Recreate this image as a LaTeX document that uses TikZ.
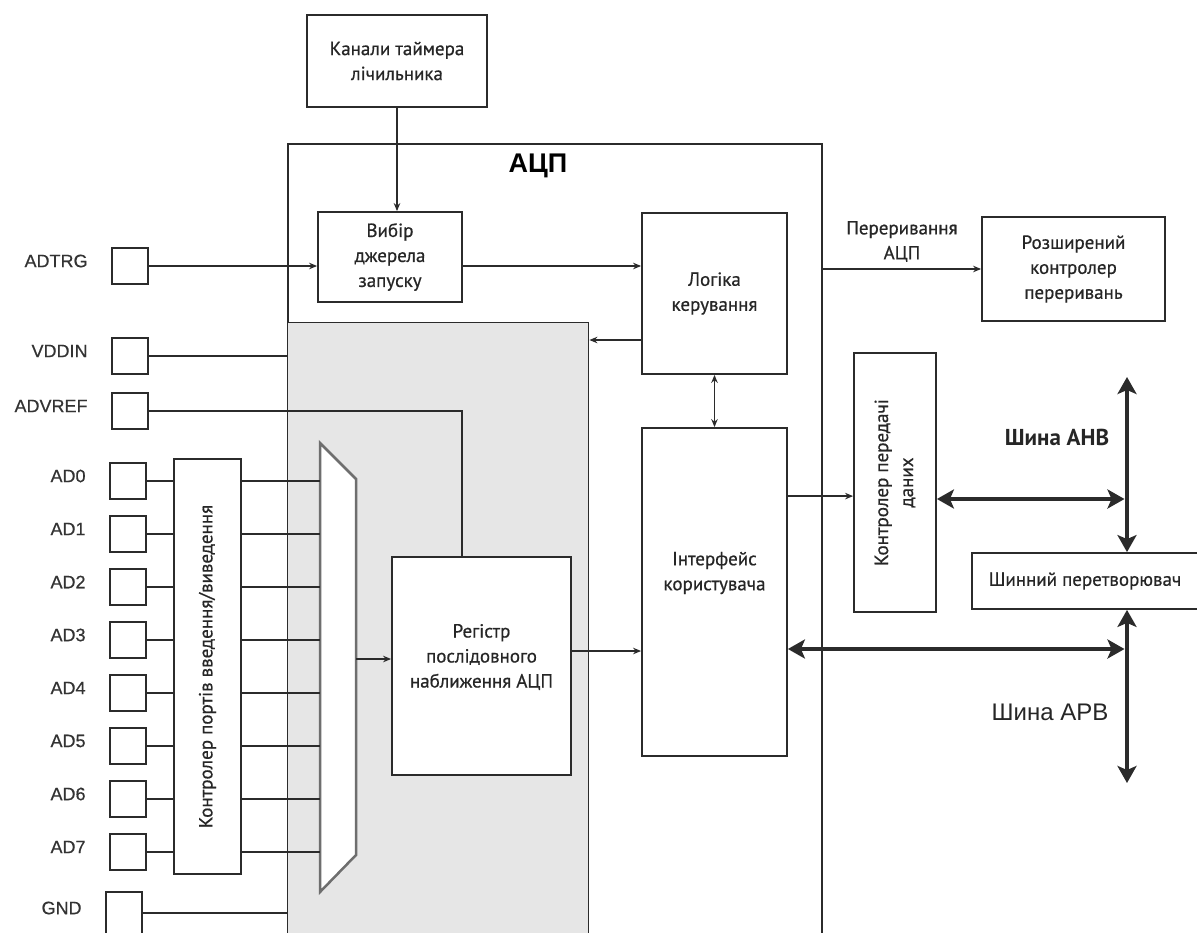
\documentclass[tikz,border=0pt]{standalone}
\usepackage{fontspec}
\setmainfont{PT Sans}
\newfontfamily\boxfont[FakeBold=0.6]{PT Sans}
\newfontfamily\arialfont{Liberation Sans}
\newfontfamily\padfont[FakeBold=0.5]{Liberation Sans}
\usetikzlibrary{arrows.meta,calc}
\definecolor{linegray}{HTML}{2B2B2B}
\definecolor{coregray}{HTML}{E6E6E6}
\definecolor{muxgray}{HTML}{6E6E6E}
\tikzset{
>={Stealth[length=8pt,width=6.5pt]}, % thin arrow heads
every edge/.style={draw, linegray, line width=1.7pt}, % plain connectors
txt/.style={text=black!85, align=center, font=\boxfont\fontsize{19}{25}\selectfont},
block/.style={txt, draw=linegray, line width=1.8pt, fill=white, inner sep=0pt},
padbox/.style={draw=linegray, line width=1.8pt, fill=white, minimum width=36pt, minimum height=36pt, inner sep=0pt},
padlabel/.style={font=\padfont\fontsize{18}{20}\selectfont, text=black!80, label distance=20pt, yshift=5pt},
bus/.style={draw, linegray, line width=4.5pt, arrows={Stealth[length=17pt,width=19pt,inset=4pt]-Stealth[length=17pt,width=19pt,inset=4pt]}}, % thick bus lines
}
\begin{document}
\begin{tikzpicture}[x=1pt, y=-1pt, node distance=53pt]
\useasboundingbox (0,0) rectangle (1197,932);
\clip (0,0) rectangle (1197,932);
\fill[white] (0,0) rectangle (1197,932);

% ADC frame and its grey analog part
\node[block, minimum width=534pt, minimum height=820pt, anchor=north west] (adc) at (287,143) {};
\node[text=black, font=\arialfont\bfseries\fontsize{27}{30}\selectfont] at (538,166) {АЦП};
\node[draw=linegray, line width=1.4pt, fill=coregray, minimum width=301pt, minimum height=640pt, anchor=north west, inner sep=0pt] (core) at (287,322) {};

% blocks
\node[block, minimum width=180pt, minimum height=92pt] (timer) at (397,61) {Канали таймера\\лічильника};
\node[block, minimum width=144pt, minimum height=90pt] (trig) at (390,257) {Вибір\\джерела\\запуску};
\node[block, minimum width=145pt, minimum height=161pt] (logic) at (714.5,293.5) {Логіка\\керування};
\node[block, minimum width=145pt, minimum height=328pt] (iface) at (714.5,592) {};
\node[txt] at ($(iface.center)+(0,-19)$) {Інтерфейс\\користувача};
\node[block, minimum width=179pt, minimum height=218pt] (sar) at (481.5,666) {};
\node[txt] at ($(sar.center)+(0,-9)$) {Регістр\\послідовного\\наближення АЦП};
\node[block, minimum width=183pt, minimum height=104pt] (rint) at (1073.5,269) {Розширений\\контролер\\переривань};
\node[block, minimum width=82pt, minimum height=259pt] (dctl) at (895,482.5) {};
\node[txt, rotate=90] at (dctl.center) {Контролер передачі\\даних};
\node[block, minimum width=226pt, minimum height=56pt] (conv) at (1085,581) {Шинний перетворювач};
\node[block, minimum width=67pt, minimum height=415pt] (portctl) at (207.5,666.5) {};
\node[txt, rotate=90] at (portctl.center) {Контролер портів введення/виведення};

% multiplexer
\draw[muxgray, line width=2.5pt, fill=white] (320,443) -- (356,479) -- (356,855) -- (320,892) -- cycle;
\coordinate (muxin) at (320,667);
\coordinate (muxout) at (356,659);

% pins
\node[padbox, label={[padlabel]west:ADTRG}] (adtrg) at (130,266) {};
\node[padbox, label={[padlabel]west:VDDIN}] (vddin) at (130,356) {};
\node[padbox, label={[padlabel]west:ADVREF}] (advref) at (130,411) {};
\node[padbox, label={[padlabel]west:AD0}] (ad0) at (128,481) {};
\node[padbox, below of=ad0, label={[padlabel]west:AD1}] (ad1) {};
\node[padbox, below of=ad1, label={[padlabel]west:AD2}] (ad2) {};
\node[padbox, below of=ad2, label={[padlabel]west:AD3}] (ad3) {};
\node[padbox, below of=ad3, label={[padlabel]west:AD4}] (ad4) {};
\node[padbox, below of=ad4, label={[padlabel]west:AD5}] (ad5) {};
\node[padbox, below of=ad5, label={[padlabel]west:AD6}] (ad6) {};
\node[padbox, below of=ad6, label={[padlabel]west:AD7}] (ad7) {};
\node[padbox, minimum height=42pt, label={[padlabel]west:GND}] (gnd) at (124,913) {};

% connectors
\coordinate (lgout) at ($(logic.west)+(0,46.5)$);
\coordinate (refin) at ($(sar.north)+(-19.5,0)$);
\coordinate (sarout) at ($(sar.east)+(0,-15)$);
\coordinate (ifout) at ($(iface.north east)+(0,69)$);
\draw (timer.south) edge[->] (timer.south |- trig.north)
	(adtrg.east) edge[->] (adtrg -| trig.west)
	(adtrg -| trig.east) edge[->] (adtrg -| logic.west)
	(lgout) edge[->] (lgout -| core.east)
	(logic.south) edge[<->] (iface.north)
	(rint.west -| adc.east) edge[->] node[txt, above=3pt, midway] {Переривання\\АЦП} (rint.west)
	(vddin.east) edge (vddin -| core.west)
	(gnd.east) edge (gnd -| core.west)
	(muxout) edge[->] (muxout -| sar.west)
	(sarout) edge[->] (sarout -| iface.west)
	(ifout) edge[->] (ifout -| dctl.west);
\draw[linegray, line width=1.7pt] (advref.east) -| (refin);
\draw (ad0.east) edge (ad0 -| portctl.west) (ad0 -| portctl.east) edge (ad0 -| muxin)
	(ad1.east) edge (ad1 -| portctl.west) (ad1 -| portctl.east) edge (ad1 -| muxin)
	(ad2.east) edge (ad2 -| portctl.west) (ad2 -| portctl.east) edge (ad2 -| muxin)
	(ad3.east) edge (ad3 -| portctl.west) (ad3 -| portctl.east) edge (ad3 -| muxin)
	(ad4.east) edge (ad4 -| portctl.west) (ad4 -| portctl.east) edge (ad4 -| muxin)
	(ad5.east) edge (ad5 -| portctl.west) (ad5 -| portctl.east) edge (ad5 -| muxin)
	(ad6.east) edge (ad6 -| portctl.west) (ad6 -| portctl.east) edge (ad6 -| muxin)
	(ad7.east) edge (ad7 -| portctl.west) (ad7 -| portctl.east) edge (ad7 -| muxin);

% AHB and APB buses
\coordinate (ahbtop) at (1127,377);
\coordinate (apbbot) at (1127,783);
\coordinate (dcout) at ($(dctl.east)+(0,16.5)$);
\coordinate (ifbus) at ($(iface.east)+(0,57)$);
\draw[bus] (ahbtop) -- (ahbtop |- conv.north);
\draw[bus] (conv.south -| apbbot) -- (apbbot);
\draw[bus, shorten >=2.5pt] (dcout) -- (dcout -| ahbtop);
\draw[bus, shorten >=2.5pt] (ifbus) -- (ifbus -| apbbot);
\node[text=black!85, font=\bfseries\fontsize{23}{26}\selectfont] at (1057,437) {Шина AHB};
\node[text=black!85, font=\arialfont\fontsize{24}{26}\selectfont] at (1050,712) {Шина APB};
\end{tikzpicture}
\end{document}
